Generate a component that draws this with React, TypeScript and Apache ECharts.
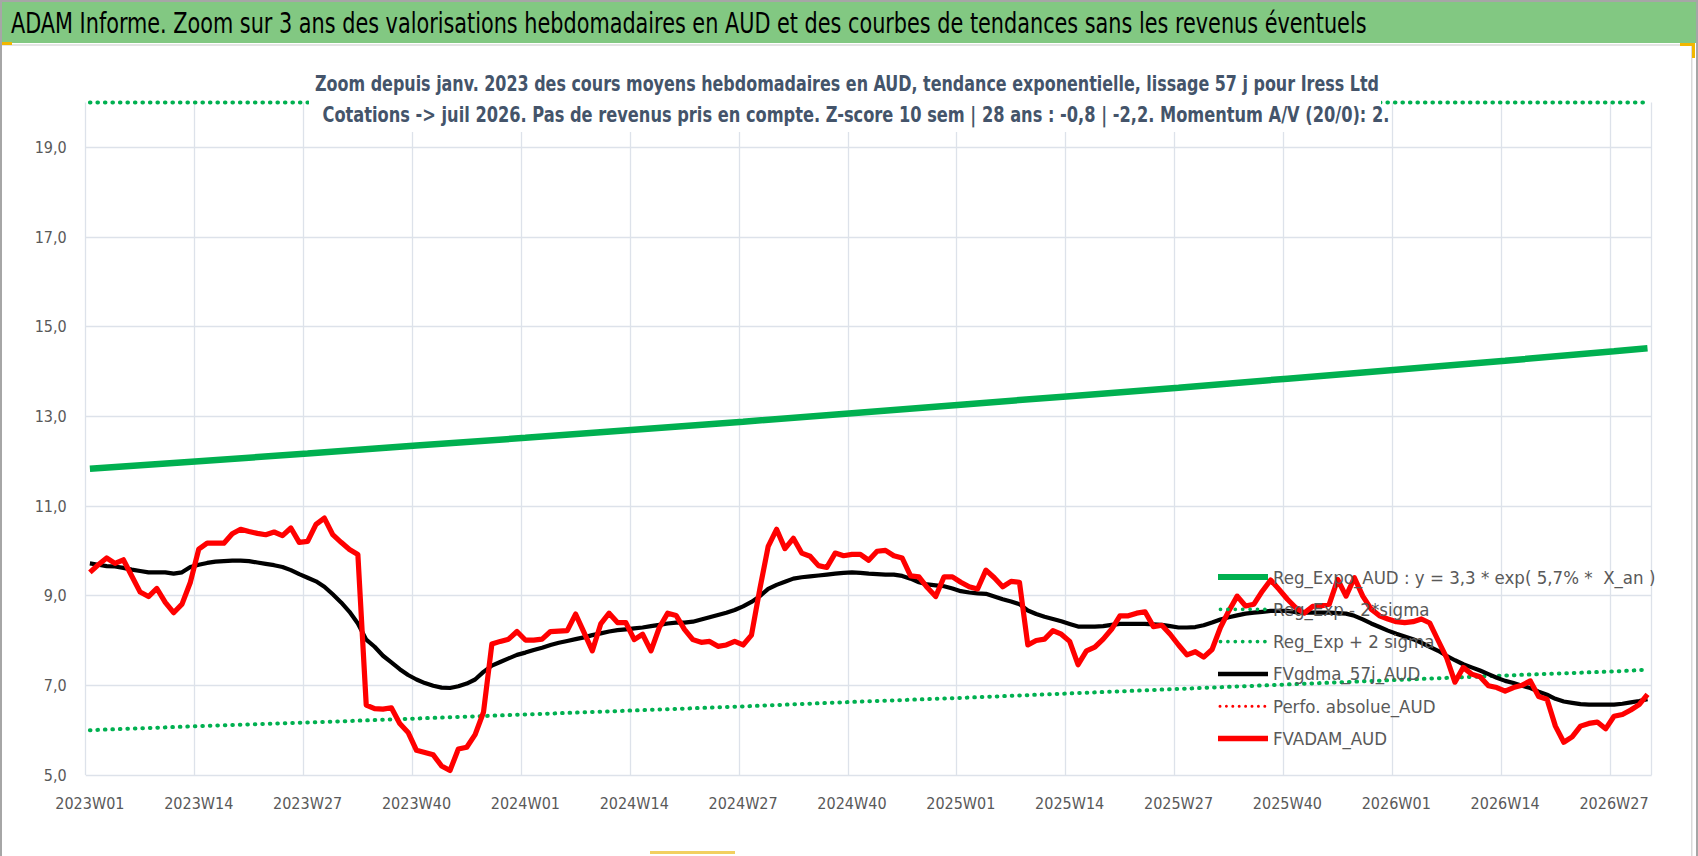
import React, { useEffect, useRef } from "react";
import * as echarts from "echarts";

const W = 1698;
const H = 856;

const weeksPerYear: [number, number][] = [
  [2023, 52],
  [2024, 52],
  [2025, 52],
  [2026, 31],
];
const categories: string[] = weeksPerYear.flatMap(([y, n]) =>
  Array.from({ length: n }, (_, i) => `${y}W${String(i + 1).padStart(2, "0")}`)
);

// FVADAM_AUD (red)
const fvadamAud: number[] = [
  9.52, 9.69, 9.84, 9.72, 9.8, 9.44, 9.08, 8.98, 9.16, 8.85,
  8.62, 8.81, 9.3, 10.04, 10.17, 10.17, 10.17, 10.38, 10.48, 10.43,
  10.39, 10.36, 10.42, 10.34, 10.51, 10.19, 10.21, 10.59, 10.73, 10.36,
  10.19, 10.03, 9.92, 6.56, 6.48, 6.47, 6.5, 6.15, 5.95, 5.55,
  5.5, 5.45, 5.2, 5.1, 5.58, 5.62, 5.9, 6.4, 7.92, 7.98,
  8.03, 8.2, 8.01, 8.01, 8.03, 8.2, 8.21, 8.22, 8.59, 8.18,
  7.77, 8.37, 8.61, 8.4, 8.4, 8.02, 8.14, 7.77, 8.29, 8.61,
  8.56, 8.25, 8.02, 7.96, 7.98, 7.87, 7.9, 7.98, 7.9, 8.12,
  9.15, 10.1, 10.48, 10.05, 10.28, 9.95, 9.88, 9.67, 9.63, 9.95,
  9.89, 9.92, 9.92, 9.79, 9.99, 10.01, 9.89, 9.84, 9.44, 9.42,
  9.18, 8.98, 9.42, 9.42, 9.3, 9.2, 9.15, 9.57, 9.4, 9.2,
  9.32, 9.3, 7.9, 8.0, 8.03, 8.22, 8.14, 7.98, 7.46, 7.77,
  7.85, 8.03, 8.25, 8.55, 8.55, 8.61, 8.64, 8.31, 8.34, 8.14,
  7.9, 7.68, 7.75, 7.63, 7.8, 8.29, 8.66, 8.99, 8.77, 8.81,
  9.1, 9.35, 9.14, 8.92, 8.73, 8.61, 8.76, 8.77, 8.81, 9.36,
  8.99, 9.4, 8.99, 8.7, 8.55, 8.48, 8.42, 8.4, 8.42, 8.48,
  8.39, 8.0, 7.62, 7.07, 7.4, 7.25, 7.19, 6.99, 6.95, 6.87,
  6.95, 7.0, 7.1, 6.75, 6.69, 6.09, 5.73, 5.85, 6.09, 6.15,
  6.18, 6.03, 6.31, 6.35, 6.45, 6.57, 6.8,
];

// FVgdma_57j_AUD (black)
const fvgdma57jAud: number[] = [
  9.72, 9.69, 9.66, 9.65, 9.62, 9.58, 9.55, 9.52, 9.52, 9.52,
  9.49, 9.52, 9.64, 9.69, 9.73, 9.76, 9.77, 9.78, 9.78, 9.77,
  9.74, 9.71, 9.68, 9.64, 9.57, 9.48, 9.4, 9.32, 9.2, 9.03,
  8.85, 8.64, 8.38, 8.02, 7.86, 7.66, 7.51, 7.36, 7.23, 7.13,
  7.05, 6.99, 6.95, 6.94, 6.98, 7.04, 7.13, 7.3, 7.44, 7.52,
  7.6, 7.68, 7.73, 7.79, 7.84, 7.9, 7.95, 7.99, 8.03, 8.07,
  8.12, 8.16, 8.2, 8.23, 8.25, 8.27, 8.29, 8.32, 8.35, 8.38,
  8.4, 8.4, 8.42, 8.47, 8.52, 8.57, 8.62, 8.68, 8.76, 8.86,
  8.99, 9.15, 9.24, 9.31, 9.38, 9.41, 9.43, 9.45, 9.47, 9.49,
  9.51, 9.52, 9.51, 9.49, 9.48, 9.47, 9.47, 9.44, 9.38, 9.3,
  9.25, 9.23, 9.21, 9.16, 9.1, 9.07, 9.05, 9.04, 8.98, 8.92,
  8.87, 8.81, 8.67, 8.59, 8.53, 8.48, 8.43, 8.37, 8.31, 8.31,
  8.31, 8.32, 8.35, 8.37, 8.37, 8.37, 8.37, 8.36, 8.35, 8.32,
  8.29, 8.29, 8.3, 8.34, 8.4, 8.47, 8.52, 8.56, 8.6, 8.62,
  8.64, 8.66, 8.66, 8.66, 8.63, 8.62, 8.62, 8.62, 8.62, 8.61,
  8.6, 8.55, 8.47, 8.38, 8.3, 8.22, 8.15, 8.09, 8.03, 7.95,
  7.86, 7.77, 7.66, 7.56, 7.47, 7.4, 7.33, 7.25, 7.17, 7.1,
  7.05, 6.99, 6.94, 6.86, 6.79, 6.7, 6.64, 6.61, 6.58, 6.57,
  6.57, 6.57, 6.57, 6.59, 6.62, 6.65, 6.69,
];

// Trend curves read at the labelled weeks
const trendWeeks: string[] = [
  "2023W01", "2023W14", "2023W27", "2023W40", "2024W01", "2024W14", "2024W27", "2024W40",
  "2025W01", "2025W14", "2025W27", "2025W40", "2026W01", "2026W14", "2026W27", "2026W31",
];
const regExpoAud: number[] = [
  11.83, 12.0, 12.17, 12.35, 12.52, 12.7, 12.88, 13.07, 13.26, 13.45, 13.64, 13.84, 14.04, 14.24, 14.45, 14.52,
];
const regExpMinus2Sigma: number[] = [
  6.0, 6.09, 6.17, 6.26, 6.35, 6.44, 6.53, 6.63, 6.72, 6.82, 6.92, 7.02, 7.12, 7.22, 7.31, 7.35,
];
// + 2 sigma lies above the axis maximum: it is seen along the top edge
const regExpPlus2Sigma: number[] = [
  20, 20, 20, 20, 20, 20, 20, 20, 20, 20, 20, 20, 20, 20, 20, 20,
];
const perfoAbsolueAud: (number | null)[] = [];

const seriesNames = [
  "Reg_Expo_AUD : y = 3,3 * exp( 5,7% *  X_an )",
  "Reg_Exp - 2*sigma",
  "Reg_Exp + 2 sigma",
  "FVgdma_57j_AUD",
  "Perfo. absolue_AUD",
  "FVADAM_AUD",
];

const headerTitle =
  "ADAM Informe. Zoom sur 3 ans des valorisations hebdomadaires en AUD et des courbes de tendances sans les revenus éventuels";
const subtitleLines = [
  "Zoom depuis janv. 2023 des cours moyens hebdomadaires en AUD, tendance exponentielle, lissage 57 j pour Iress Ltd",
  "Cotations -> juil 2026. Pas de revenus pris en compte. Z-score 10 sem | 28 ans : -0,8 | -2,2. Momentum A/V (20/0): 2.",
];

const FONT = "'Liberation Sans Narrow', 'Arial Narrow', 'DejaVu Sans Condensed', 'Liberation Sans', sans-serif";

const sparse = (vals: number[]) =>
  categories.map((c) => {
    const k = trendWeeks.indexOf(c);
    return k >= 0 ? vals[k] : null;
  });

const measure = (text: string, font: string) => {
  const ctx = document.createElement("canvas").getContext("2d");
  if (!ctx) return 0;
  ctx.font = font;
  return ctx.measureText(text).width;
};

const fitText = (
  text: string,
  x: number,
  y: number,
  size: number,
  weight: string,
  fill: string,
  align: string,
  targetWidth: number
) => {
  const font = `${weight} ${size}px ${FONT}`;
  const w = measure(text, font);
  const s = w > 0 ? targetWidth / w : 1;
  return {
    type: "text",
    x,
    y,
    scaleX: s,
    scaleY: 1,
    z: 101,
    silent: true,
    style: {
      text,
      x: 0,
      y: 0,
      fill,
      font,
      fontSize: size,
      fontWeight: weight,
      fontFamily: FONT,
      align,
      verticalAlign: "middle",
      textAlign: align,
      textVerticalAlign: "middle",
    },
  };
};

// legend icons (box = itemWidth x itemHeight)
const IW = 50;
const IH = 14;
const frame = `M0,0h0.01v0.01h-0.01z M${IW - 0.01},${IH - 0.01}h0.01v0.01h-0.01z`;
const solidIcon = (t: number) => `path://${frame} M0,${(IH - t) / 2}h${IW}v${t}h-${IW}z`;
const dotIcon = (n: number, r: number, x0: number, pitch: number) => {
  let d = frame;
  for (let i = 0; i < n; i++) {
    const cx = x0 + i * pitch;
    d += ` M${cx - r},${IH / 2}a${r},${r} 0 1,0 ${2 * r},0a${r},${r} 0 1,0 -${2 * r},0z`;
  }
  return `path://${d}`;
};
const legendIcons = [
  solidIcon(6),
  dotIcon(7, 1.9, 2.5, 7.4),
  dotIcon(7, 1.9, 2.5, 7.4),
  solidIcon(4.5),
  dotIcon(8, 1.5, 2, 6.4),
  solidIcon(5.5),
];

const GRID = { left: 85.7, top: 102.5, right: W - 1651.7, bottom: H - 775 };

const App: React.FC = () => {
  const ref = useRef<HTMLDivElement>(null);

  useEffect(() => {
    if (!ref.current) return;
    const chart = echarts.init(ref.current, undefined, { renderer: "svg", width: W, height: H });

    const dotted = [0.6, 6.9];
    const option: any = {
      animation: false,
      backgroundColor: "#ffffff",
      grid: GRID,
      legend: {
        orient: "vertical",
        left: 1213,
        top: 562,
        itemWidth: IW,
        itemHeight: IH,
        itemGap: 12.3,
        selectedMode: false,
        symbolKeepAspect: false,
        itemStyle: { borderWidth: 0 },
        data: seriesNames.map((name, i) => ({ name, icon: legendIcons[i] })),
        textStyle: { fontSize: 18.5, color: "#595959", fontFamily: FONT, lineHeight: 20 },
      },
      xAxis: {
        type: "category",
        data: categories,
        boundaryGap: true,
        axisLine: { show: false },
        axisTick: { show: false },
        axisLabel: {
          interval: 12,
          fontSize: 16,
          color: "#595959",
          fontFamily: FONT,
          margin: 20,
        },
        splitLine: { show: true, interval: 12, lineStyle: { color: "#dde2ea", width: 1.3 } },
      },
      yAxis: {
        type: "value",
        min: 5,
        max: 20,
        interval: 2,
        axisLine: { show: false },
        axisTick: { show: false },
        axisLabel: {
          showMaxLabel: false,
          fontSize: 16,
          color: "#595959",
          fontFamily: FONT,
          margin: 19,
          formatter: (v: number) => (v >= 20 ? "" : v.toFixed(1).replace(".", ",")),
        },
        splitLine: { show: true, showMaxLine: false, lineStyle: { color: "#dde2ea", width: 1.3 } },
      },
      series: [
        {
          name: seriesNames[0],
          type: "line",
          data: sparse(regExpoAud),
          connectNulls: true,
          symbol: "none",
          silent: true,
          lineStyle: { color: "#00B050", width: 6.5 },
          itemStyle: { color: "#00B050" },
        },
        {
          name: seriesNames[1],
          type: "line",
          data: sparse(regExpMinus2Sigma),
          connectNulls: true,
          symbol: "none",
          silent: true,
          lineStyle: { color: "#00B050", width: 4, type: dotted, cap: "round" },
          itemStyle: { color: "#00B050" },
        },
        {
          name: seriesNames[2],
          type: "line",
          data: sparse(regExpPlus2Sigma),
          connectNulls: true,
          symbol: "none",
          silent: true,
          clip: false,
          lineStyle: { color: "#00B050", width: 4, type: dotted, cap: "round" },
          itemStyle: { color: "#00B050" },
        },
        {
          name: seriesNames[3],
          type: "line",
          data: fvgdma57jAud,
          symbol: "none",
          silent: true,
          lineStyle: { color: "#000000", width: 4.2 },
          itemStyle: { color: "#000000" },
        },
        {
          name: seriesNames[4],
          type: "line",
          data: perfoAbsolueAud,
          symbol: "none",
          silent: true,
          lineStyle: { color: "#FF0000", width: 3, type: dotted, cap: "round" },
          itemStyle: { color: "#FF0000" },
        },
        {
          name: seriesNames[5],
          type: "line",
          data: fvadamAud,
          symbol: "none",
          silent: true,
          lineStyle: { color: "#FF0000", width: 5.2, join: "round" },
          itemStyle: { color: "#FF0000" },
        },
      ],
      graphic: [
        { type: "rect", z: 100, silent: true, shape: { x: 0, y: 0, width: W, height: 2 }, style: { fill: "#a6a6a6" } },
        { type: "rect", z: 100, silent: true, shape: { x: 0, y: 2, width: W - 2, height: 41 }, style: { fill: "#82c882" } },
        { type: "rect", z: 100, silent: true, shape: { x: 0, y: 0, width: 2, height: H }, style: { fill: "#a6a6a6" } },
        { type: "rect", z: 100, silent: true, shape: { x: W - 2, y: 0, width: 2, height: H }, style: { fill: "#a6a6a6" } },
        { type: "rect", z: 100, silent: true, shape: { x: 2, y: 44, width: 1690, height: 2 }, style: { fill: "#e4e4e4" } },
        { type: "rect", z: 100, silent: true, shape: { x: 1691, y: 44, width: 1.5, height: H - 44 }, style: { fill: "#d9d9d9" } },
        { type: "rect", z: 100, silent: true, shape: { x: 1680, y: 43, width: 15, height: 3 }, style: { fill: "#f2b700" } },
        { type: "rect", z: 100, silent: true, shape: { x: 1692, y: 43, width: 3, height: 15 }, style: { fill: "#f2b700" } },
        { type: "rect", z: 100, silent: true, shape: { x: 2, y: 42, width: 10, height: 3 }, style: { fill: "#f2b700" } },
        { type: "rect", z: 100, silent: true, shape: { x: 650, y: 851, width: 85, height: 3 }, style: { fill: "#f2d060" } },
        fitText(headerTitle, 11, 23, 29, "normal", "#000000", "left", 1356),
        { type: "rect", z: 100, silent: true, shape: { x: 309, y: 68, width: 1072, height: 64 }, style: { fill: "#ffffff" } },
        fitText(subtitleLines[0], 847, 84, 21, "bold", "#44546a", "center", 1065),
        fitText(subtitleLines[1], 856, 115, 21, "bold", "#44546a", "center", 1068),
      ],
    };

    chart.setOption(option);
    return () => chart.dispose();
  }, []);

  return (
    <div
      ref={ref}
      style={{ position: "fixed", left: 0, top: 0, width: W, height: H, background: "#ffffff" }}
    />
  );
};

export default App;
